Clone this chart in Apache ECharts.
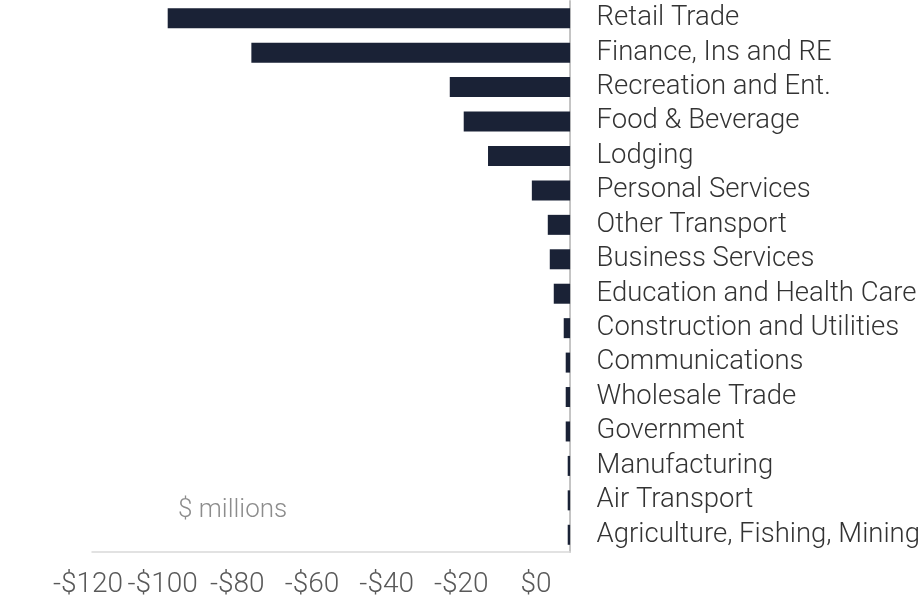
<!DOCTYPE html>
<html>
<head>
<meta charset="utf-8">
<script src="https://cdn.jsdelivr.net/npm/echarts@6/dist/echarts.min.js"></script>
<style>
  html, body { margin: 0; padding: 0; background: #ffffff; }
  #chart { width: 923px; height: 612px; }
</style>
</head>
<body>
<div id="chart"></div>
<script>
const categories = [
  'Retail Trade', 'Finance, Ins and RE', 'Recreation and Ent.', 'Food & Beverage',
  'Lodging', 'Personal Services', 'Other Transport', 'Business Services',
  'Education and Health Care', 'Construction and Utilities', 'Communications',
  'Wholesale Trade', 'Government', 'Manufacturing', 'Air Transport',
  'Agriculture, Fishing, Mining'
];
const values = [-101.0, -80.0, -30.2, -26.7, -20.6, -9.6, -5.6, -5.1, -4.1, -1.6, -1.1, -1.1, -1.1, -0.6, -0.6, -0.6];
const tickLabels = ['-$120', '-$100', '-$80', '-$60', '-$40', '-$20', '$0'];
const unitNote = '$ millions';

const FONT = 'Roboto';
const chart = echarts.init(document.getElementById('chart'), null, { renderer: 'canvas' });
chart.setOption({
  animation: false,
  backgroundColor: '#ffffff',
  grid: [
    { left: 92, right: 351, top: 1, height: 551 },
    { left: 88, right: 387, top: 1, height: 551 }
  ],
  xAxis: [
    {
      gridIndex: 0, type: 'value', min: -120, max: 0, interval: 20,
      axisLine: { show: true, lineStyle: { color: '#d9d9d9', width: 1.5 } },
      axisTick: { show: false }, axisLabel: { show: false }, splitLine: { show: false }
    },
    {
      gridIndex: 1, type: 'category', data: tickLabels, boundaryGap: false,
      axisLine: { show: false }, axisTick: { show: false }, splitLine: { show: false },
      axisLabel: { show: true, interval: 0, hideOverlap: false, margin: 19, fontFamily: FONT, fontWeight: 300, fontSize: 28, color: '#595959' }
    }
  ],
  yAxis: [
    {
      gridIndex: 0, type: 'category', data: categories, inverse: true, position: 'right',
      axisLine: { show: true, onZero: false, lineStyle: { color: '#c4c4c4', width: 2 } },
      axisTick: { show: false }, splitLine: { show: false },
      axisLabel: { interval: 0, hideOverlap: false, margin: 26.5, fontFamily: FONT, fontWeight: 300, fontSize: 27.5, color: '#333333' }
    },
    { gridIndex: 1, type: 'value', show: false }
  ],
  series: [
    {
      type: 'bar', xAxisIndex: 0, yAxisIndex: 0, data: values, barWidth: 20,
      itemStyle: { color: '#1a2236' }
    }
  ],
  graphic: [
    {
      type: 'text', left: 178, top: 497,
      style: { text: unitNote, fontFamily: FONT, fontWeight: 300, fontSize: 26, fill: '#8c8c8c' }
    }
  ]
});
</script>
</body>
</html>
